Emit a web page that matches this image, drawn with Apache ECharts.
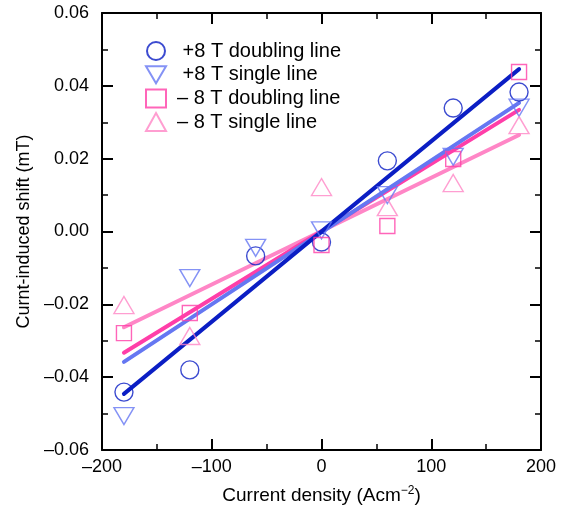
<!DOCTYPE html>
<html><head><meta charset="utf-8">
<script src="https://cdn.jsdelivr.net/npm/echarts@6/dist/echarts.min.js"></script>
<style>html,body{margin:0;padding:0;background:#fff}#c{width:567px;height:513px}</style>
</head><body><div id="c"></div>
<script>
const xCats = [-180, -120, -60, 0, 60, 120, 180];
const plusDoubling = [-0.0441, -0.0380, -0.0067, -0.0029, 0.0194, 0.0339, 0.0383];
const plusSingle = [-0.0507, -0.0128, -0.0045, 0.0003, 0.0100, 0.0205, 0.0340];
const minusDoubling = [-0.0279, -0.0224, null, -0.0037, 0.0015, 0.0199, 0.0438];
const minusSingle = [-0.0202, -0.0287, null, 0.0122, 0.0067, 0.0133, 0.0292];
const fitX = [-180, 180];
const fitPlusDoubling = [-0.0446, 0.0446];
const fitPlusSingle = [-0.0358, 0.0353];
const fitMinusDoubling = [-0.0333, 0.0334];
const fitMinusSingle = [-0.0263, 0.0265];
const names = [' +8 T doubling line', ' +8 T single line', '\u2013 8 T doubling line', '\u2013 8 T single line'];

const cDark = '#0b1ec4', cMid = '#6577f2', cMag = '#ff3ea8', cPink = '#ff86c6';
const FONT = 'Liberation Sans, Arial, sans-serif';
const dash = v => String(v).replace('-', '\u2013');
const pts = ys => xCats.map((x, i) => [x, ys[i]]).filter(p => p[1] !== null);
const fit = ys => fitX.map((x, i) => [x, ys[i]]);
const downTri = 'path://M0,0 L20,0 L10,17 Z';

function scatter(name, data, symbol, size, color) {
  return { name, type: 'scatter', data: pts(data), symbol, symbolSize: size, z: 3,
    itemStyle: { color: 'rgba(255,255,255,0)', borderColor: color, borderWidth: 1.4 } };
}
function line(data, color) {
  return { type: 'line', data: fit(data), showSymbol: false, symbol: 'none', z: 2,
    lineStyle: { color, width: 4, cap: 'round' }, silent: true };
}
function axisCommon() {
  return {
    axisLine: { show: true, onZero: false, lineStyle: { color: '#000', width: 2 } },
    axisTick: { show: true, inside: true, length: 11, lineStyle: { color: '#000', width: 2 } },
    minorTick: { show: true, splitNumber: 2, length: 6, lineStyle: { color: '#000', width: 1.5 } },
    splitLine: { show: false }
  };
}
const chart = echarts.init(document.getElementById('c'));
chart.setOption({
  animation: false,
  grid: { left: 102, right: 26, top: 13, bottom: 63 },
  legend: {
    orient: 'vertical', left: 140, top: 36, itemWidth: 20, itemHeight: 18, itemGap: 3.7,
    data: names.map((n, i) => ({ name: n, icon: ['circle', downTri, 'rect', 'triangle'][i] })),
    textStyle: { fontFamily: FONT, fontSize: 20, color: '#000', padding: [0, 0, 0, 6] },
    selectedMode: false
  },
  xAxis: [
    Object.assign(axisCommon(), { type: 'value', min: -200, max: 200, interval: 100, position: 'bottom',
      axisLabel: { fontFamily: FONT, fontSize: 18, color: '#000', margin: 8, formatter: v => dash(v) },
      name: '{a|Current density (Acm}{s|\u22122}{a|)}', nameLocation: 'middle', nameGap: 35,
      nameTextStyle: { rich: { a: { fontFamily: FONT, fontSize: 19, color: '#000' },
        s: { fontFamily: FONT, fontSize: 12, color: '#000', verticalAlign: 'top', padding: [0, 0, 9, 0] } } } }),
    Object.assign(axisCommon(), { type: 'value', min: -200, max: 200, interval: 100, position: 'top',
      axisLabel: { show: false } })
  ],
  yAxis: [
    Object.assign(axisCommon(), { type: 'value', min: -0.06, max: 0.06, interval: 0.02, position: 'left',
      axisLabel: { fontFamily: FONT, fontSize: 18, color: '#000', margin: 13, formatter: v => dash(v.toFixed(2)) },
      name: 'Curnt-induced shift (mT)', nameLocation: 'middle', nameGap: 65, nameRotate: 90,
      nameTextStyle: { fontFamily: FONT, fontSize: 18, color: '#000' } }),
    Object.assign(axisCommon(), { type: 'value', min: -0.06, max: 0.06, interval: 0.02, position: 'right',
      axisLabel: { show: false } })
  ],
  series: [
    line(fitMinusSingle, cPink),
    line(fitMinusDoubling, cMag),
    line(fitPlusSingle, cMid),
    line(fitPlusDoubling, cDark),
    scatter(names[0], plusDoubling, 'circle', 18, cDark),
    scatter(names[1], plusSingle, downTri, [20, 17], cMid),
    scatter(names[2], minusDoubling, 'rect', 15, cMag),
    scatter(names[3], minusSingle, 'triangle', [20, 17], cPink)
  ]
});
</script></body></html>
